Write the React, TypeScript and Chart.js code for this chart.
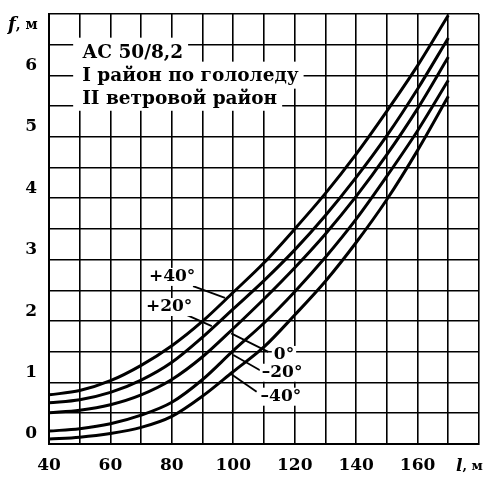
import { useEffect, useRef } from "react";
import { Chart, registerables } from "chart.js";

Chart.register(...registerables);

// Span l, m
const spans = [40, 50, 60, 70, 80, 90, 100, 110, 120, 130, 140, 150, 160, 170];
// Sag f, m for each temperature
const sagPlus40 = [0.8, 0.87, 1.03, 1.28, 1.6, 2.0, 2.47, 2.95, 3.5, 4.08, 4.72, 5.42, 6.16, 6.98];
const sagPlus20 = [0.67, 0.72, 0.84, 1.04, 1.33, 1.74, 2.2, 2.66, 3.16, 3.72, 4.34, 5.02, 5.78, 6.61];
const sagZero = [0.51, 0.55, 0.64, 0.8, 1.05, 1.42, 1.88, 2.36, 2.87, 3.42, 4.03, 4.71, 5.46, 6.3];
const sagMinus20 = [0.21, 0.25, 0.33, 0.47, 0.68, 1.05, 1.52, 1.97, 2.48, 3.04, 3.66, 4.36, 5.1, 5.92];
const sagMinus40 = [0.08, 0.11, 0.17, 0.27, 0.45, 0.78, 1.18, 1.58, 2.1, 2.65, 3.28, 3.98, 4.78, 5.66];

const curveValues = [sagPlus40, sagPlus20, sagZero, sagMinus20, sagMinus40];

// Temperature labels and their leader lines (data units)
const tempLabels = ["+40°", "+20°", "0°", "–20°", "–40°"];
const labelX = [80.1, 79.1, 116.5, 115.9, 115.5];
const labelY = [2.72, 2.23, 1.45, 1.16, 0.77];
const leaderStartX = [86.9, 83.5, 99.3, 100.0, 98.9];
const leaderStartY = [2.57, 2.13, 1.8, 1.45, 1.15];
const leaderEndX = [97.3, 93.0, 111.4, 108.7, 107.6];
const leaderEndY = [2.38, 1.92, 1.5, 1.2, 0.85];

// Axis ticks
const xMin = 40;
const xMax = 180;
const xStep = 10;
const xLabelled = [40, 60, 80, 100, 120, 140, 160];
const yMin = 0;
const yMax = 7;
const yStep = 0.5;
const yLabelled = [0, 1, 2, 3, 4, 5, 6];

// Caption block
const infoLines = ["АС 50/8,2", "I район по гололеду", "II ветровой район"];
const infoX = 50.8;
const infoY = [6.37, 5.98, 5.62];

const FONT = '"DejaVu Serif", serif';

export default function App() {
  const ref = useRef<HTMLCanvasElement>(null);

  useEffect(() => {
    const canvas = ref.current;
    if (!canvas) return;

    const curveSets = curveValues.map((vals) => ({
      data: spans.map((s, i) => ({ x: s, y: vals[i] })),
      borderColor: "#000",
      borderWidth: 3,
      pointRadius: 0,
      cubicInterpolationMode: "monotone" as const,
      fill: false,
    }));

    const leaderSets = tempLabels.map((_, i) => ({
      data: [
        { x: leaderStartX[i], y: leaderStartY[i] },
        { x: leaderEndX[i], y: leaderEndY[i] },
      ],
      borderColor: "#000",
      borderWidth: 1.8,
      pointRadius: 0,
      fill: false,
    }));

    const annot = {
      id: "annot",
      afterDatasetsDraw(chart: any) {
        const { ctx, scales } = chart;
        const xs = scales.x;
        const ys = scales.y;
        ctx.save();
        // caption block
        ctx.font = `bold 18.5px ${FONT}`;
        ctx.textBaseline = "middle";
        ctx.textAlign = "left";
        const tx = xs.getPixelForValue(infoX);
        ctx.fillStyle = "#fff";
        infoLines.forEach((t, i) => {
          const ty = ys.getPixelForValue(infoY[i]);
          const w = ctx.measureText(t).width;
          ctx.fillRect(tx - 9, ty - 15, w + 14, 27);
        });
        ctx.fillStyle = "#000";
        infoLines.forEach((t, i) => {
          const ty = ys.getPixelForValue(infoY[i]);
          ctx.fillText(t, tx, ty);
        });

        // temperature labels
        ctx.font = `bold 17px ${FONT}`;
        ctx.textAlign = "center";
        tempLabels.forEach((t, i) => {
          const px = xs.getPixelForValue(labelX[i]);
          const py = ys.getPixelForValue(labelY[i]);
          const w = ctx.measureText(t).width;
          ctx.fillStyle = "#fff";
          ctx.fillRect(px - w / 2 - 2, py - 9, w + 4, 18);
          ctx.fillStyle = "#000";
          ctx.fillText(t, px, py);
        });

        // axis titles
        const area = chart.chartArea;
        ctx.textAlign = "left";
        // y title: f, м
        let cx = 8;
        const fy = area.top + 11;
        ctx.font = `italic bold 18px ${FONT}`;
        ctx.fillText("f", cx, fy);
        cx += ctx.measureText("f").width;
        ctx.font = `bold 14px ${FONT}`;
        ctx.fillText(", м", cx, fy);
        // x title: l, м
        cx = area.right - 23;
        const ly = area.bottom + 23;
        ctx.font = `italic bold 17px ${FONT}`;
        ctx.fillText("l", cx, ly);
        cx += ctx.measureText("l").width;
        ctx.font = `bold 13px ${FONT}`;
        ctx.fillText(", м", cx, ly);
        ctx.restore();
      },
    };

    const tickFont = { family: FONT, size: 17, weight: "bold" as const };

    const chart = new Chart(canvas, {
      type: "line",
      data: { datasets: [...curveSets, ...leaderSets] as any },
      options: {
        animation: false,
        responsive: false,
        maintainAspectRatio: false,
        layout: { padding: { top: 14, right: 4, left: 0, bottom: 0 } },
        plugins: { legend: { display: false }, tooltip: { enabled: false } },
        scales: {
          x: {
            type: "linear",
            min: xMin,
            max: xMax,
            afterFit: (s: any) => {
              s.height = 36;
              s.paddingLeft = 0;
              s.paddingRight = 0;
            },
            ticks: {
              stepSize: xStep,
              autoSkip: false,
              maxRotation: 0,
              padding: 11,
              color: "#000",
              font: tickFont,
              callback: (v: any) => (xLabelled.includes(Number(v)) ? String(v) : ""),
            },
            grid: { color: "#000", lineWidth: 1.6, drawTicks: false },
            border: { color: "#000", width: 2 },
          },
          y: {
            type: "linear",
            min: yMin,
            max: yMax,
            afterFit: (s: any) => {
              s.width = 49;
              s.paddingTop = 0;
              s.paddingBottom = 0;
            },
            ticks: {
              stepSize: yStep,
              autoSkip: false,
              padding: 12,
              labelOffset: -10,
              color: "#000",
              font: tickFont,
              callback: (v: any) => (yLabelled.includes(Number(v)) ? String(v) : ""),
            },
            grid: { color: "#000", lineWidth: 1.6, drawTicks: false },
            border: { color: "#000", width: 2 },
          },
        },
      },
      plugins: [annot],
    });
    return () => chart.destroy();
  }, []);

  return (
    <div style={{ position: "fixed", left: 0, top: 0, width: 483, height: 480, background: "#fff" }}>
      <canvas ref={ref} width={483} height={480} style={{ display: "block" }} />
    </div>
  );
}
